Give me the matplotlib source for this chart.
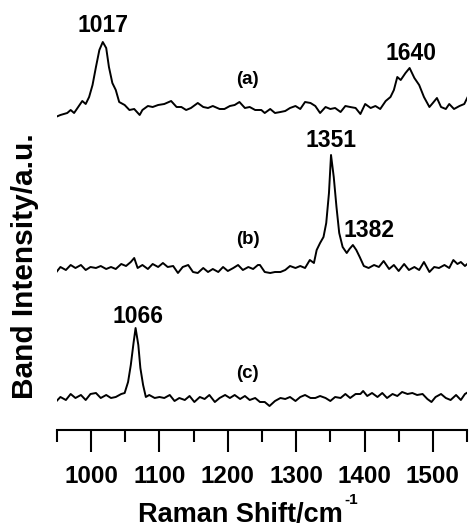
import matplotlib
matplotlib.use("Agg")
import matplotlib.pyplot as plt

plt.rcParams['font.family'] = ['Liberation Sans', 'DejaVu Sans']
plt.rcParams['font.weight'] = 'bold'

# spectrum (a)
wn_a = [948, 955, 965, 970, 975, 982, 987, 992, 997, 1002, 1007, 1012, 1017, 1022, 1026,
        1031, 1036, 1041, 1049, 1056, 1063, 1071, 1075, 1083, 1090, 1098, 1107, 1117, 1125,
        1132, 1139, 1146, 1156, 1164, 1171, 1178, 1188, 1195, 1203, 1210, 1217, 1225, 1232,
        1240, 1249,
        1254, 1262, 1269, 1277, 1284, 1291, 1299, 1306, 1313, 1321, 1328, 1335, 1343, 1350,
        1357, 1365, 1372, 1379, 1387, 1394, 1401, 1409, 1416, 1423, 1431, 1438, 1443, 1448,
        1453, 1460, 1466, 1473, 1480, 1487, 1495, 1500, 1506, 1512, 1519, 1524, 1531, 1539,
        1546, 1551]
int_a = [0, 2, 4, 7, 4, 11, 16, 13, 20, 32, 50, 67, 75, 69, 50,
         34, 27, 15, 12, 7, 8, 2, 7, 11, 10, 12, 13, 16, 10,
         10, 7, 9, 14, 10, 9, 11, 8, 8, 11, 12, 15, 9, 10,
         7, 7,
         4, 8, 4, 5, 6, 9, 11, 8, 15, 14, 11, 4, 10, 8,
         9, 5, 11, 10, 9, 3, 13, 9, 11, 8, 16, 20, 27, 40,
         37, 44, 49, 39, 32, 20, 10, 14, 19, 10, 8, 13, 8, 11,
         13, 20]

# spectrum (b)
wn_b = [948, 955, 963, 970, 977, 985, 992, 999, 1007, 1014, 1022, 1029, 1036, 1044, 1051,
        1058, 1063, 1068, 1075, 1083, 1090, 1098, 1105, 1112, 1120, 1127, 1134, 1142, 1149,
        1156, 1164, 1171, 1178, 1186, 1193, 1200, 1208, 1215, 1222, 1230, 1237, 1244,
        1247, 1254, 1262, 1269, 1277, 1284, 1291, 1299, 1306, 1313, 1320, 1326, 1330, 1335,
        1340, 1344, 1348, 1351, 1355, 1359, 1363, 1368, 1374, 1378, 1383, 1388, 1393, 1399,
        1406, 1414, 1421, 1428, 1436, 1443, 1450, 1458, 1465, 1473, 1480, 1487, 1495, 1502,
        1509, 1517, 1524, 1530, 1536, 1541, 1547, 1552]
int_b = [2, 8, 5, 10, 7, 10, 5, 8, 7, 9, 6, 8, 6, 11, 9,
         13, 17, 7, 10, 6, 11, 8, 12, 8, 9, 2, 8, 10, 3,
         2, 7, 3, 6, 3, 8, 4, 7, 10, 5, 8, 6, 10,
         10, 3, 2, 3, 3, 5, 9, 7, 9, 7, 15, 12, 25, 32,
         38, 52, 82, 120, 98, 68, 42, 28, 22, 26, 30, 25, 18, 9,
         7, 10, 8, 14, 6, 10, 4, 11, 5, 8, 5, 13, 3, 8,
         7, 10, 7, 15, 11, 13, 9, 12]

# spectrum (c)
wn_c = [948, 955, 963, 970, 977, 985, 992, 999, 1007, 1014, 1022, 1029, 1036, 1044, 1049,
        1054, 1058, 1062, 1065, 1069, 1072, 1076, 1080, 1085, 1093, 1100, 1107, 1115, 1122,
        1129, 1137, 1144, 1151, 1159, 1166, 1173, 1181, 1188, 1196, 1203, 1210, 1218, 1225,
        1232, 1240,
        1247, 1254, 1261, 1269, 1277, 1284, 1291, 1299, 1306, 1313, 1321, 1328, 1335, 1343,
        1350, 1357, 1365, 1372, 1379, 1387, 1394, 1398, 1404, 1411, 1419, 1426, 1433, 1441,
        1448, 1455, 1463, 1470, 1477, 1485, 1492, 1498, 1504, 1512, 1519, 1526, 1534, 1541,
        1547, 1552]
int_c = [3, 8, 5, 11, 7, 10, 5, 11, 12, 7, 10, 7, 8, 11, 12,
         23, 40, 62, 77, 60, 37, 20, 8, 10, 7, 8, 7, 10, 4,
         7, 5, 9, 3, 8, 6, 10, 3, 7, 10, 7, 10, 6, 9,
         5, 7,
         3, 3, -1, 4, 7, 6, 8, 4, 8, 10, 7, 7, 9, 7,
         4, 8, 7, 11, 7, 11, 11, 14, 9, 12, 8, 12, 7, 11,
         9, 13, 11, 12, 10, 11, 6, 3, 8, 11, 7, 5, 10, 5,
         11, 13]

trace_names = ['(a)', '(b)', '(c)']
peak_labels = [('1017', 1017, 'a'), ('1640', 1468, 'a'), ('1351', 1351, 'b'),
               ('1382', 1406, 'b'), ('1066', 1068, 'c')]

offsets = {'a': 313, 'b': 155, 'c': 25}

fig = plt.figure(figsize=(4.7, 5.29), dpi=100)
ax = fig.add_axes([57 / 470, 99 / 529, 410 / 470, 430 / 529])

for wn, inten, key in [(wn_a, int_a, 'a'), (wn_b, int_b, 'b'), (wn_c, int_c, 'c')]:
    ax.plot(wn, [v + offsets[key] for v in inten], color='black', lw=1.4)

# peak labels (baseline heights set by hand)
label_y = {'1017': 398, '1640': 370, '1351': 283, '1382': 193, '1066': 107}
for txt, xpos, key in peak_labels:
    ax.text(xpos, label_y[txt], txt, ha='center', va='baseline', fontsize=16.5, fontweight='bold')

for name, ypos in zip(trace_names, [346, 186, 52]):
    ax.text(1229, ypos, name, ha='center', va='baseline', fontsize=13.5, fontweight='bold')

ax.set_xlim(950, 1550)
ax.set_ylim(0, 430)
ax.set_xticks([1000, 1100, 1200, 1300, 1400, 1500])
ax.set_xticks([950, 1050, 1150, 1250, 1350, 1450, 1550], minor=True)
ax.set_yticks([])
for s in ['left', 'right', 'top']:
    ax.spines[s].set_visible(False)
ax.spines['bottom'].set_linewidth(1.5)
ax.tick_params(axis='x', which='major', length=16, width=1.5, pad=9, labelsize=17.5)
ax.tick_params(axis='x', which='minor', length=8.5, width=1.5)
for lab in ax.get_xticklabels():
    lab.set_fontweight('bold')

fig.text(343 / 470, 1 - 522 / 529, 'Raman Shift/cm', ha='right', va='baseline',
         fontsize=19.5, fontweight='bold')
fig.text(344 / 470, 1 - 504 / 529, '-1', ha='left', va='baseline',
         fontsize=11, fontweight='bold')
fig.text(25 / 470, 1 - 266 / 529, 'Band Intensity/a.u.', ha='center', va='center',
         rotation=90, fontsize=21.5, fontweight='bold')

fig.savefig('out.png', dpi=100)
